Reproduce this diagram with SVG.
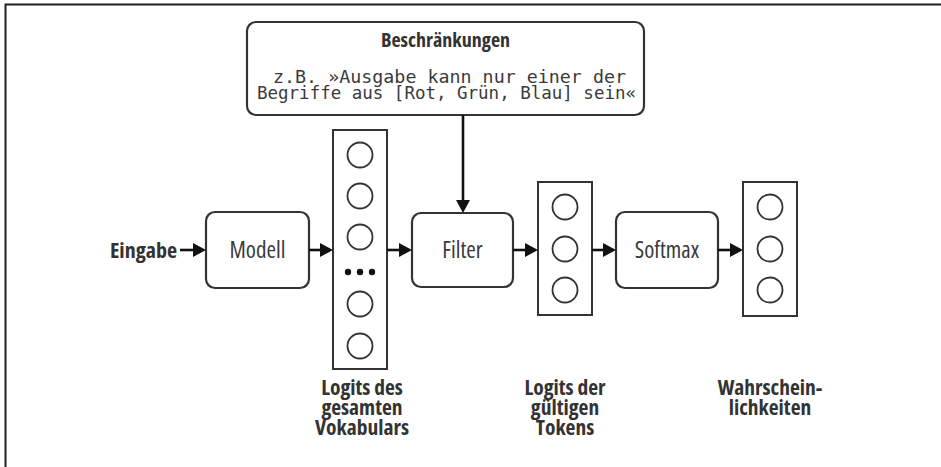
<svg xmlns="http://www.w3.org/2000/svg" width="941" height="467" viewBox="0 0 941 467">
  <defs>
    <style>
      .frame { fill: none; stroke: #231f20; stroke-width: 2; }
      .box { fill: #ffffff; stroke: #333333; stroke-width: 2.2; }
      .col { fill: #ffffff; stroke: #333333; stroke-width: 2; }
      .unit { fill: #ffffff; stroke: #333333; stroke-width: 1.8; }
      .dot { fill: #111111; }
      .edge { fill: none; stroke: #111111; stroke-width: 2.6; }
      .sans { font-family: "Liberation Sans Narrow", "Open Sans", "Liberation Sans", sans-serif; font-stretch: condensed; fill: #3a3a3a; }
      .bold { font-weight: bold; fill: #333333; }
      .label { font-size: 21.5px; }
      .mono { font-family: "DejaVu Sans Mono", "Liberation Mono", monospace; fill: #3a3a3a; }
    </style>
    <marker id="head" viewBox="0 0 13 14" refX="0" refY="7" markerWidth="13" markerHeight="14" markerUnits="userSpaceOnUse" orient="auto">
      <path d="M0,0 L13,7 L0,14 Z" fill="#111111"/>
    </marker>
  </defs>

  <!-- page frame (top and left edges) -->
  <path class="frame" d="M5.5,467 V4.5 H941"/>

  <!-- constraint box -->
  <g id="constraints">
    <rect class="box" x="247" y="22" width="397" height="93" rx="9"/>
    <text class="sans bold" x="445.5" y="47" font-size="20" text-anchor="middle">Beschränkungen</text>
    <text class="mono" x="273" y="83" font-size="18" textLength="353" lengthAdjust="spacingAndGlyphs">z.B. »Ausgabe kann nur einer der</text>
    <text class="mono" x="257" y="99" font-size="18" textLength="379" lengthAdjust="spacingAndGlyphs">Begriffe aus [Rot, Grün, Blau] sein«</text>
  </g>

  <!-- input label -->
  <g id="input">
    <text class="sans bold" x="177" y="258" font-size="22" text-anchor="end">Eingabe</text>
  </g>

  <!-- model -->
  <g id="model">
    <rect class="box" x="206" y="212" width="103" height="76" rx="9"/>
    <text class="sans" x="257.5" y="258" font-size="23" text-anchor="middle">Modell</text>
  </g>

  <!-- full-vocabulary logits -->
  <g id="vocab-logits">
    <rect class="col" x="333" y="130" width="54" height="239"/>
    <circle class="unit" cx="360" cy="155" r="12.5"/>
    <circle class="unit" cx="360" cy="196" r="12.5"/>
    <circle class="unit" cx="360" cy="237" r="12.5"/>
    <circle class="dot" cx="348" cy="272" r="3.2"/>
    <circle class="dot" cx="360" cy="272" r="3.2"/>
    <circle class="dot" cx="372" cy="272" r="3.2"/>
    <circle class="unit" cx="360" cy="304" r="12.5"/>
    <circle class="unit" cx="360" cy="346" r="12.5"/>
    <text class="sans bold label" x="362" y="395" text-anchor="middle">Logits des</text>
    <text class="sans bold label" x="362" y="415" text-anchor="middle">gesamten</text>
    <text class="sans bold label" x="362" y="435" text-anchor="middle">Vokabulars</text>
  </g>

  <!-- filter -->
  <g id="filter">
    <rect class="box" x="412" y="213" width="101" height="74" rx="9"/>
    <text class="sans" x="462.5" y="258" font-size="23" text-anchor="middle">Filter</text>
  </g>

  <!-- valid-token logits -->
  <g id="valid-logits">
    <rect class="col" x="538" y="182" width="54" height="133"/>
    <circle class="unit" cx="565" cy="207" r="12.5"/>
    <circle class="unit" cx="565" cy="249" r="12.5"/>
    <circle class="unit" cx="565" cy="290" r="12.5"/>
    <text class="sans bold label" x="565" y="395" text-anchor="middle">Logits der</text>
    <text class="sans bold label" x="565" y="415" text-anchor="middle">gültigen</text>
    <text class="sans bold label" x="565" y="435" text-anchor="middle">Tokens</text>
  </g>

  <!-- softmax -->
  <g id="softmax">
    <rect class="box" x="616" y="212" width="102" height="76" rx="9"/>
    <text class="sans" x="667" y="258" font-size="23" text-anchor="middle">Softmax</text>
  </g>

  <!-- probabilities -->
  <g id="probabilities">
    <rect class="col" x="743" y="182" width="54" height="134"/>
    <circle class="unit" cx="770" cy="207" r="12.5"/>
    <circle class="unit" cx="770" cy="249" r="12.5"/>
    <circle class="unit" cx="770" cy="290" r="12.5"/>
    <text class="sans bold label" x="770" y="395" text-anchor="middle">Wahrschein-</text>
    <text class="sans bold label" x="770" y="415" text-anchor="middle">lichkeiten</text>
  </g>

  <!-- connectors -->
  <g id="connectors">
    <line class="edge" x1="180" y1="250" x2="193" y2="250" marker-end="url(#head)"/>
    <line class="edge" x1="309" y1="250" x2="320" y2="250" marker-end="url(#head)"/>
    <line class="edge" x1="387" y1="250" x2="399" y2="250" marker-end="url(#head)"/>
    <line class="edge" x1="513" y1="250" x2="525" y2="250" marker-end="url(#head)"/>
    <line class="edge" x1="592" y1="250" x2="603" y2="250" marker-end="url(#head)"/>
    <line class="edge" x1="718" y1="250" x2="730" y2="250" marker-end="url(#head)"/>
    <line class="edge" x1="463" y1="115" x2="463" y2="200" marker-end="url(#head)"/>
  </g>
</svg>
